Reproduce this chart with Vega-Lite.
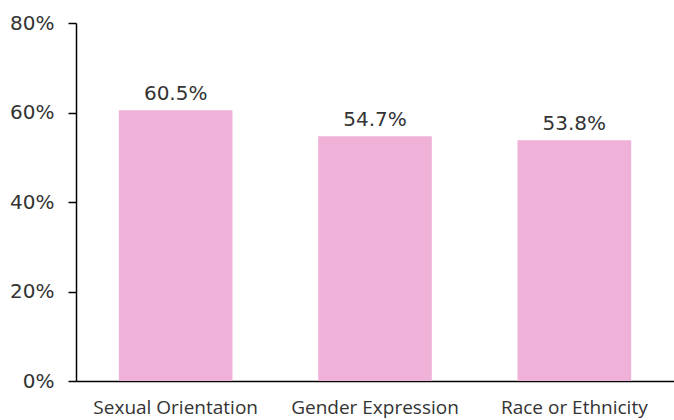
{
  "$schema": "https://vega.github.io/schema/vega-lite/v6.json",
  "autosize": "none",
  "padding": {"left": 76, "top": 23, "right": 0, "bottom": 39},
  "width": 598,
  "height": 358,
  "background": "white",
  "config": {"view": {"stroke": null}, "font": "Open Sans"},
  "data": {"values": [
    {"category": "Sexual Orientation", "value": 0.605},
    {"category": "Gender Expression", "value": 0.547},
    {"category": "Race or Ethnicity", "value": 0.538}
  ]},
  "encoding": {
    "x": {"field": "category", "type": "nominal", "sort": null,
      "scale": {"paddingInner": 0.43, "paddingOuter": 0.215},
      "axis": {"title": null, "labelAngle": 0, "ticks": false, "domainColor": "#000", "domainWidth": 1.5,
        "labelFontSize": 19, "labelColor": "#333", "labelPadding": 17, "labelFont": "Open Sans"}},
    "y": {"field": "value", "type": "quantitative",
      "scale": {"domain": [0, 0.8]},
      "axis": {"title": null, "values": [0, 0.2, 0.4, 0.6, 0.8], "format": ".0%", "grid": false,
        "domainColor": "#000", "domainWidth": 1.5, "tickColor": "#000", "tickSize": 8, "tickWidth": 1.5,
        "labelFontSize": 20, "labelColor": "#333", "labelPadding": 14, "labelFont": "DejaVu Sans"}}
  },
  "layer": [
    {"mark": {"type": "bar", "color": "#EFB1D7"}},
    {"mark": {"type": "text", "baseline": "alphabetic", "dy": -10, "fontSize": 20, "color": "#333", "font": "DejaVu Sans"},
     "encoding": {"text": {"field": "value", "type": "quantitative", "format": ".1%"}}}
  ]
}
